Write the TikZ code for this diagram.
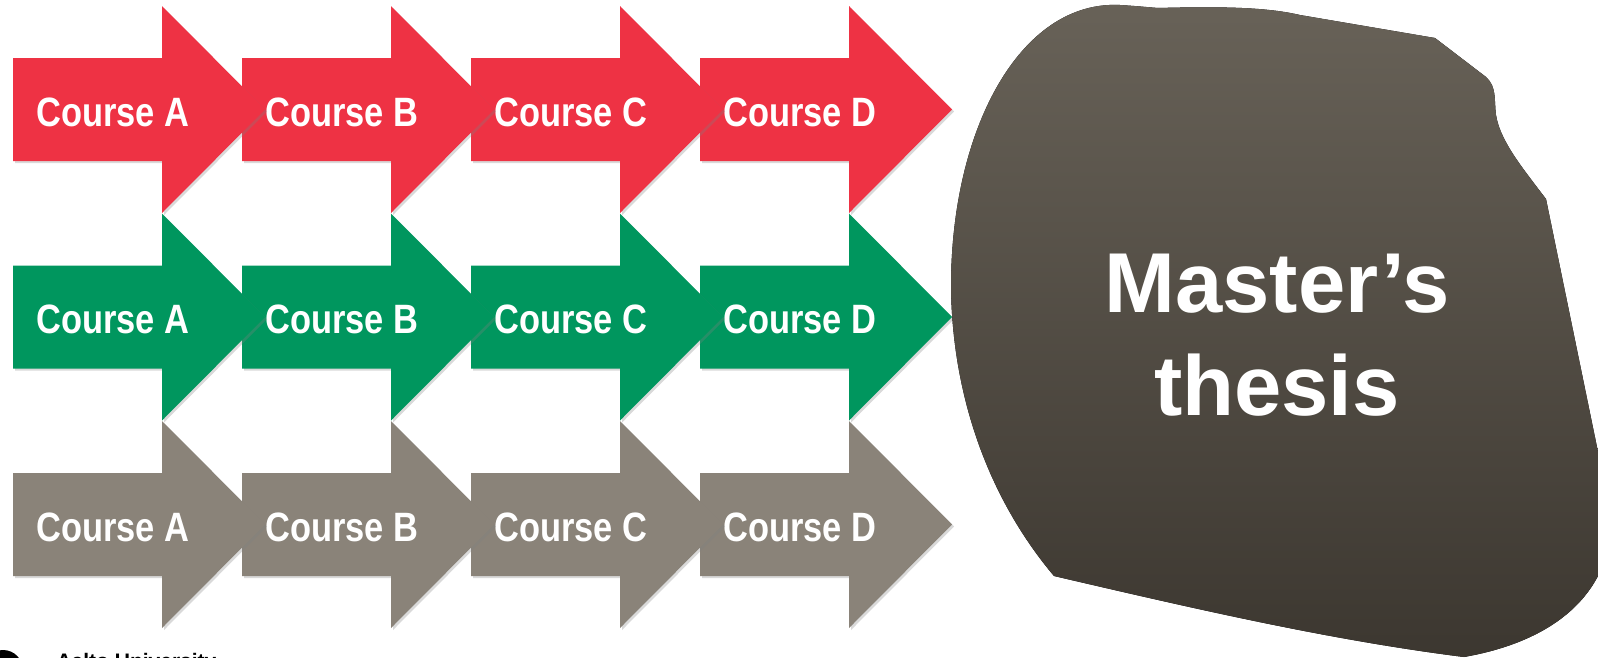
\documentclass[tikz,border=0pt]{standalone}
\usepackage{fontspec}
\setmainfont{Liberation Sans}
\newfontfamily\coursefont[FakeStretch=0.84]{Liberation Sans}
\usetikzlibrary{shadows}

\definecolor{coursered}{RGB}{238,50,68}
\definecolor{coursegreen}{RGB}{0,150,94}
\definecolor{coursegrey}{RGB}{138,131,121}
\definecolor{blobtop}{RGB}{104,98,88}
\definecolor{blobbottom}{RGB}{60,55,48}

\begin{document}
\begin{tikzpicture}[x=1pt, y=-1pt,
		course/.style={drop shadow={shadow xshift=2pt, shadow yshift=-2pt, opacity=.3}},
		coursetext/.style={text=white, anchor=base, font=\coursefont\bfseries\fontsize{41}{41}\selectfont},
		blob/.style={top color=blobtop, bottom color=blobbottom},
		thesis/.style={text=white, anchor=base, align=center, font=\bfseries\fontsize{85}{103}\selectfont}
	]
		\clip (0,0) rectangle (1598,657);

		\foreach \row/\y/\col in {grey/524.5/coursegrey, green/317/coursegreen, red/109.5/coursered}
			\foreach \n/\x in {D/700, C/471, B/242, A/13} {
				\fill[course, \col] (\x,\y-51.5) -- ++(149,0) -- ++(0,-52) -- (\x+252,\y) -- (\x+149,\y+103.5) -- ++(0,-52) -- (\x,\y+51.5) -- cycle;
				\node[coursetext] (\row-\n) at (\x+100,\y+16.5) {Course \n};
			}

		\fill[blob] (1054,576) .. controls (990,500) and (953,400) .. (951,290)
			.. controls (950,130) and (1020,0) .. (1120,5)
			.. controls (1135,6) .. (1158,8)
			.. controls (1230,6) and (1270,8) .. (1300,15) -- (1435,38) -- (1486,77)
			.. controls (1497,87) and (1494,100) .. (1496,115)
			.. controls (1500,140) and (1520,165) .. (1546,199) -- (1612,520)
			.. controls (1610,590) and (1560,640) .. (1464,657)
			.. controls (1330,640) and (1200,610) .. (1054,576) -- cycle;
		\node[thesis] (thesis) at (1277,415) {Master’s\\thesis};

		\fill (3,670) circle [radius=20];
		\node[anchor=base west, font=\bfseries\fontsize{21}{21}\selectfont] (aalto) at (53,668) {Aalto University};
	\end{tikzpicture}
\end{document}
